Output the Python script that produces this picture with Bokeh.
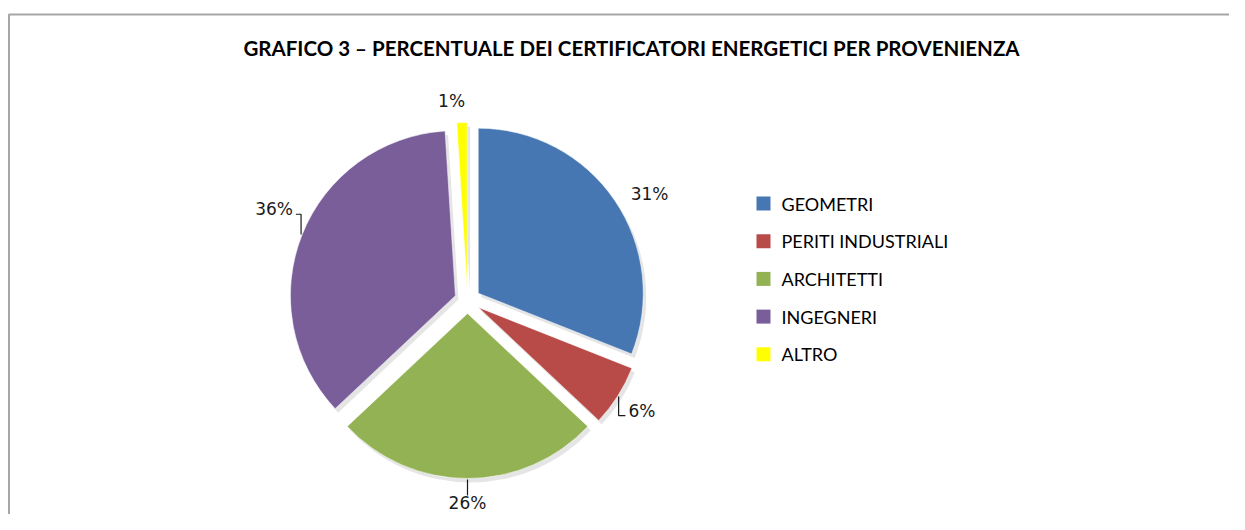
import numpy as np
from bokeh.plotting import figure
from bokeh.models import Range1d, ColumnDataSource
from bokeh.embed import file_html
from bokeh.resources import INLINE
from bokeh.core.properties import value

# ---------------- data ----------------
title_text = "GRAFICO 3 – PERCENTUALE DEI CERTIFICATORI ENERGETICI PER PROVENIENZA"
categories = ["GEOMETRI", "PERITI INDUSTRIALI", "ARCHITETTI", "INGEGNERI", "ALTRO"]
percentages = [31, 6, 26, 36, 1]
colors = ["#4677B2", "#B84B48", "#93B254", "#795E9A", "#FFFF00"]

# ---------------- layout (not data) ----------------
W, H = 1229, 514
CX, CY = 467, 214          # pie centre (plot pixel coords, y up)
R = 165                    # radius
EXPLODE = 13               # explosion offset
LABEL_R = 197
label_nudge = [1, 2, 0, 6, -3]          # degrees
label_r_adj = [-2, -2, -5, 0, -7]       # pixels
has_leader = [False, True, True, True, False]

p = figure(width=W, height=H, x_range=Range1d(0, W), y_range=Range1d(0, H),
           output_backend="svg", toolbar_location=None, min_border=0,
           x_axis_type=None, y_axis_type=None)
p.grid.visible = False
p.outline_line_color = None
p.background_fill_color = "white"
p.border_fill_color = "white"

# chart-area border (top and left visible)
p.line([8.5, 8.5, W], [0, 500, 500], line_color="#A6A6A6", line_width=2)

# ---------------- wedges ----------------
vals = np.array(percentages, dtype=float)
frac = vals / vals.sum()
ends = np.cumsum(frac) * 360.0
starts = ends - frac * 360.0
mids = (starts + ends) / 2.0

cx = CX + EXPLODE * np.sin(np.radians(mids))
cy = CY + EXPLODE * np.cos(np.radians(mids))
# bokeh angles: counter-clockwise from +x; ours: clockwise from top
b_start = np.radians(90 - ends)
b_end = np.radians(90 - starts)

src = ColumnDataSource(dict(x=cx, y=cy, sa=b_start, ea=b_end, color=colors,
                            sx=cx + 3, sy=cy - 4))
# soft shadow
p.wedge(x="sx", y="sy", radius=R, start_angle="sa", end_angle="ea",
        fill_color="#000000", fill_alpha=0.10, line_color=None, source=src)
p.wedge(x="x", y="y", radius=R, start_angle="sa", end_angle="ea",
        fill_color="color", line_color="white", line_width=0.5, source=src)

# ---------------- labels ----------------
lab_ang = np.radians(mids + np.array(label_nudge))
lab_r = LABEL_R + np.array(label_r_adj)
lx = CX + lab_r * np.sin(lab_ang)
ly = CY + lab_r * np.cos(lab_ang)
s = np.sin(lab_ang)
align = ["left" if v > 0.3 else ("right" if v < -0.3 else "center") for v in s]
base = []
for v, c in zip(s, np.cos(lab_ang)):
    if abs(v) > 0.3:
        base.append("middle")
    else:
        base.append("bottom" if c > 0 else "top")
texts = [f"{v:.0f}%" for v in percentages]
for i in range(len(texts)):
    p.text(x=[lx[i]], y=[ly[i]], text=[texts[i]], text_align=align[i],
           text_baseline=base[i], text_font=value("DejaVu Sans"),
           text_font_size="17px", text_color="#1a1a1a")

# leader lines
for i in range(len(texts)):
    if not has_leader[i]:
        continue
    a = np.radians(mids[i])
    x0 = CX + (R + EXPLODE + 1) * np.sin(a)
    y0 = CY + (R + EXPLODE + 1) * np.cos(a)
    if align[i] == "center":
        p.line([x0, x0], [y0, ly[i] - 3 if base[i] == "top" else ly[i] + 3],
               line_color="#1a1a1a", line_width=1.2)
    else:
        yl = ly[i] - 5
        xl = lx[i] - 3 if align[i] == "left" else lx[i] + 3
        p.line([x0, x0, xl], [y0, yl, yl], line_color="#1a1a1a", line_width=1.2)

# ---------------- title ----------------
p.text(x=[631], y=[467], text=[title_text], text_align="center",
       text_baseline="middle", text_font=value("Lato"), text_font_style="bold",
       text_font_size="20.5px", text_color="#000000")

# ---------------- legend ----------------
LEG_X, LEG_Y0, LEG_DY, SQ = 756, 311, 37.7, 14
idx = np.arange(len(categories))
ly_leg = LEG_Y0 - idx * LEG_DY
p.rect(x=LEG_X + SQ / 2, y=ly_leg, width=SQ, height=SQ, fill_color=colors,
       line_color=None)
p.text(x=LEG_X + 25, y=ly_leg, text=categories, text_align="left",
       text_baseline="middle", text_font=value("Lato"), text_font_size="18px",
       text_color="#000000")

open("out.html", "w").write(file_html(p, INLINE))
